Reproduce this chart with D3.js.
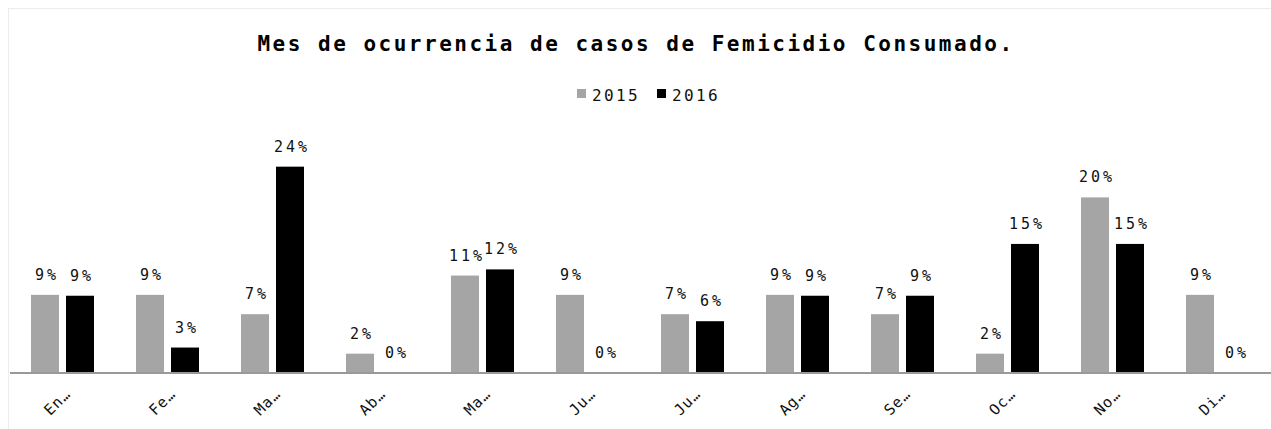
<!DOCTYPE html>
<html>
<head>
<meta charset="utf-8">
<script src="https://cdn.jsdelivr.net/npm/d3@7"></script>
<style>
  html, body { margin: 0; padding: 0; background: #fff; }
  svg { display: block; }
</style>
</head>
<body>
<div id="chart"></div>
<script>
const width = 1271;
const height = 429;

// month labels as shown (truncated) on the axis
const months = ["En…", "Fe…", "Ma…", "Ab…", "Ma…", "Ju…", "Ju…", "Ag…", "Se…", "Oc…", "No…", "Di…"];
const monthKeys = d3.range(12);
const seriesNames = ["2015", "2016"];
// percent of cases per month
const values2015 = [8.9, 8.9, 6.7, 2.2, 11.1, 8.9, 6.7, 8.9, 6.7, 2.2, 20.0, 8.9];
const values2016 = [8.8, 2.9, 23.5, 0, 11.8, 0, 5.9, 8.8, 8.8, 14.7, 14.7, 0];
const colors = ["#a5a5a5", "#000000"];

const svg = d3.select("#chart")
  .append("svg")
  .attr("width", width)
  .attr("height", height);

// faint chart frame
svg.append("rect")
  .attr("x", 8.5)
  .attr("y", 8.5)
  .attr("width", width)
  .attr("height", height)
  .attr("fill", "none")
  .attr("stroke", "#ececec");

const baseY = 373;
const x = d3.scaleBand()
  .domain(monthKeys)
  .range([10, 1270])
  .paddingInner(0.4)
  .paddingOuter(0.2);

const xSub = d3.scaleBand()
  .domain(seriesNames)
  .range([0, x.bandwidth()])
  .paddingInner(0.2);

const y = d3.scaleLinear()
  .domain([0, 25])
  .range([baseY, baseY - 25 * 8.78]);

const mono = "'DejaVu Sans Mono', monospace";

// title
svg.append("text")
  .attr("x", 636)
  .attr("y", 51)
  .attr("text-anchor", "middle")
  .style("font-family", mono)
  .style("font-weight", "bold")
  .style("font-size", "21px")
  .style("letter-spacing", "2.5px")
  .attr("fill", "#000")
  .text("Mes de ocurrencia de casos de Femicidio Consumado.");

// legend
const legend = svg.append("g");
const legendX = [577, 657];
seriesNames.forEach((name, i) => {
  legend.append("rect")
    .attr("x", legendX[i])
    .attr("y", 89)
    .attr("width", 9)
    .attr("height", 9)
    .attr("fill", colors[i]);
  legend.append("text")
    .attr("x", legendX[i] + 15)
    .attr("y", 101)
    .style("font-family", mono)
    .style("font-size", "16px")
    .style("letter-spacing", "2.4px")
    .attr("fill", "#111")
    .text(name);
});

const rows = monthKeys.map(i => ({
  key: i,
  vals: [
    { series: seriesNames[0], value: values2015[i], color: colors[0] },
    { series: seriesNames[1], value: values2016[i], color: colors[1] }
  ]
}));

const groups = svg.selectAll("g.month")
  .data(rows)
  .join("g")
  .attr("class", "month")
  .attr("transform", d => `translate(${x(d.key)},0)`);

groups.selectAll("rect")
  .data(d => d.vals)
  .join("rect")
  .attr("x", d => xSub(d.series))
  .attr("y", d => y(d.value))
  .attr("width", xSub.bandwidth())
  .attr("height", d => baseY - y(d.value))
  .attr("fill", d => d.color);

groups.selectAll("text.val")
  .data(d => d.vals)
  .join("text")
  .attr("class", "val")
  .attr("x", d => xSub(d.series) + xSub.bandwidth() / 2 + 2)
  .attr("y", d => y(d.value) - 15)
  .attr("text-anchor", "middle")
  .style("font-family", mono)
  .style("font-size", "15px")
  .style("letter-spacing", "3px")
  .attr("fill", "#111")
  .text(d => Math.round(d.value) + "%");

// x axis line
const xAxis = svg.append("g")
  .attr("transform", `translate(0,${baseY})`)
  .call(d3.axisBottom(x).tickSize(0).tickFormat(""));

xAxis.select(".domain")
  .attr("stroke", "#999")
  .attr("stroke-width", 2)
  .attr("d", "M10,0H1271");

// rotated month labels
svg.append("g")
  .selectAll("text")
  .data(monthKeys)
  .join("text")
  .attr("text-anchor", "end")
  .attr("transform", i => `translate(${x(i) + x.bandwidth() / 2 + 9},${baseY + 22}) rotate(-45)`)
  .style("font-family", mono)
  .style("font-size", "15px")
  .style("letter-spacing", "1px")
  .attr("fill", "#111")
  .text(i => months[i]);
</script>
</body>
</html>
